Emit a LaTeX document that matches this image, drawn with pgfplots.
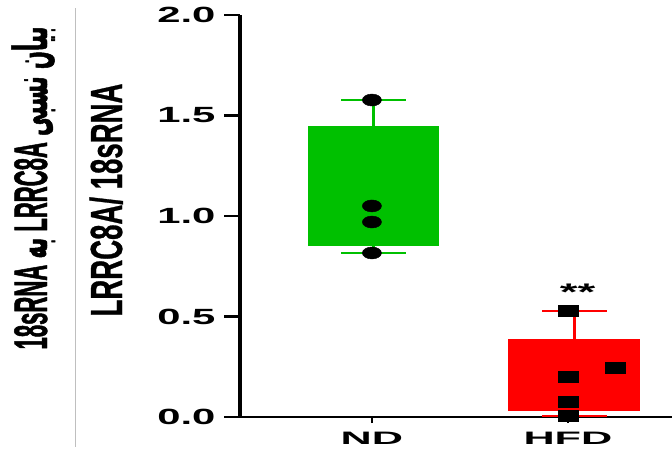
\documentclass[border=0pt]{standalone}
\usepackage{pgfplots}
\pgfplotsset{compat=1.18}
\usepgfplotslibrary{statistics}
\usepackage{fontspec}
\setmainfont{Liberation Sans}
\newfontfamily\tickfont[FakeStretch=1.9]{Liberation Sans Bold}
\newfontfamily\xtickfont[FakeStretch=2.4]{Liberation Sans Bold}
\newfontfamily\narrowfont[FakeStretch=0.613,FakeBold=0.6]{Liberation Sans Bold}
\newfontfamily\narrowerfont[FakeStretch=0.47,FakeBold=1]{Liberation Sans Bold}
\newfontfamily\arabicfont[Script=Arabic,FakeStretch=0.45,FakeBold=1]{DejaVu Sans Bold}
\TeXXeTstate=1
\definecolor{boxgreen}{RGB}{0,192,0}
\definecolor{boxred}{RGB}{255,0,0}
\begin{document}
\begin{tikzpicture}
\useasboundingbox (0pt,0pt) rectangle (672pt,455pt);
\draw[black!25, line width=1pt] (75pt,8pt) -- (75pt,447pt);
\begin{axis}[
  at={(240pt,38pt)}, anchor=south west,
  scale only axis, width=432pt, height=402pt,
  xmin=-0.673, xmax=1.531, ymin=0, ymax=2,
  axis x line=bottom, axis y line=left,
  axis line style={-},
  x axis line style={line width=2pt},
  y axis line style={line width=3.5pt},
  xtick={0,1}, xticklabels={ND,HFD},
  ytick={0,0.5,1,1.5,2}, yticklabels={0.0,0.5,1.0,1.5,2.0},
  tick align=outside,
  major tick length=16pt,
  y tick style={line width=2.5pt, black},
  x tick style={line width=2pt, black, /pgfplots/major tick length=6pt},
  x tick label style={font=\xtickfont\fontsize{18}{18}\selectfont, yshift=4pt},
  y tick label style={font=\tickfont\fontsize{22}{22}\selectfont, xshift=-5pt},
  clip=false,
  boxplot/draw direction=y,
]
\addplot[boxplot prepared={lower whisker=0.816, lower quartile=0.856, median=1.1, upper quartile=1.443, upper whisker=1.577, draw position=0.008, box extend=0.66, whisker extend=0.33}, draw=boxgreen, fill=boxgreen, line width=2.5pt] coordinates {};
\addplot[boxplot prepared={lower whisker=0.005, lower quartile=0.035, median=0.2, upper quartile=0.383, upper whisker=0.527, draw position=1.033, box extend=0.66, whisker extend=0.33}, draw=boxred, fill=boxred, line width=2.5pt] coordinates {};
\addplot[only marks, mark=*, mark size=6pt, mark options={xscale=1.6, fill=black}, black] coordinates {(0,1.577) (0,1.05) (0,0.97) (0,0.816)};
\addplot[only marks, mark=square*, mark size=5.5pt, mark options={xscale=1.8, fill=black}, black] coordinates {(1,0.527) (1,0.199) (1.24,0.244) (1,0.075) (1,0.005)};
\node[font=\tickfont\fontsize{24}{24}\selectfont] at (axis cs:1.05,0.62) {**};
\end{axis}
\node[rotate=90, anchor=base, font=\narrowfont\fontsize{45}{45}\selectfont] at (122pt,255pt) {LRRC8A/ 18sRNA};
\node[rotate=90, anchor=base, font=\narrowerfont\fontsize{47}{47}\selectfont] at (47pt,267pt) {\beginR{\arabicfont بیان نسبی} LRRC8A {\arabicfont به} 18sRNA\endR};
\end{tikzpicture}
\end{document}
